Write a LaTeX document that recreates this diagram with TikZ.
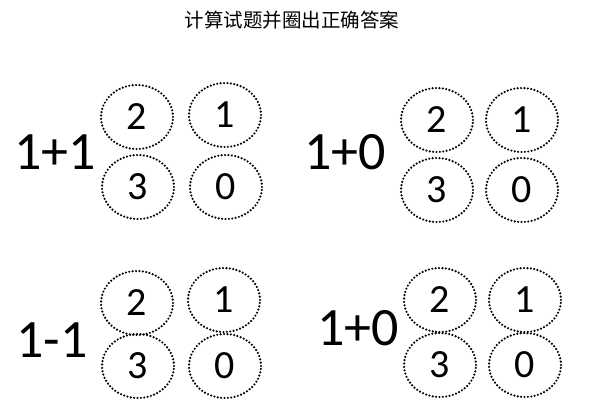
\documentclass[tikz,border=0pt]{standalone}
\usepackage{fontspec}
\setmainfont{Carlito}
\newfontfamily\cjk{Noto Sans CJK SC}
\usetikzlibrary{shapes.geometric}
\begin{document}
\begin{tikzpicture}[x=1pt,y=-1pt,
  opt/.style={draw,ellipse,minimum width=72pt,minimum height=64pt,inner sep=0pt,line width=2.4pt,dash pattern=on 0pt off 3.4pt,line cap=round,font=\fontsize{40}{40}\selectfont},
  expr/.style={font=\fontsize{54}{54}\selectfont}]
\useasboundingbox (0,0) rectangle (600,420);
\node[font=\cjk\fontsize{19.5}{19.5}\selectfont] (title) at (292,20) {计算试题并圈出正确答案};
\node[expr] (e1) at (55,152) {1+1};
\node[opt] (a1) at (137,117) {2};
\node[opt] (a2) at (225,115) {1};
\node[opt] (a3) at (138,187) {3};
\node[opt] (a4) at (226,187) {0};
\node[expr] (e2) at (345,152) {1+0};
\node[opt] (b1) at (437,120) {2};
\node[opt] (b2) at (522,120) {1};
\node[opt] (b3) at (437,190) {3};
\node[opt] (b4) at (522,190) {0};
\node[expr] (e3) at (52,340) {1-1};
\node[opt] (c1) at (137,303) {2};
\node[opt] (c2) at (224,300) {1};
\node[opt] (c3) at (138,366) {3};
\node[opt] (c4) at (225,366) {0};
\node[expr] (e4) at (358,328) {1+0};
\node[opt] (d1) at (440,300) {2};
\node[opt] (d2) at (525,300) {1};
\node[opt] (d3) at (440,365) {3};
\node[opt] (d4) at (525,365) {0};
\end{tikzpicture}
\end{document}
